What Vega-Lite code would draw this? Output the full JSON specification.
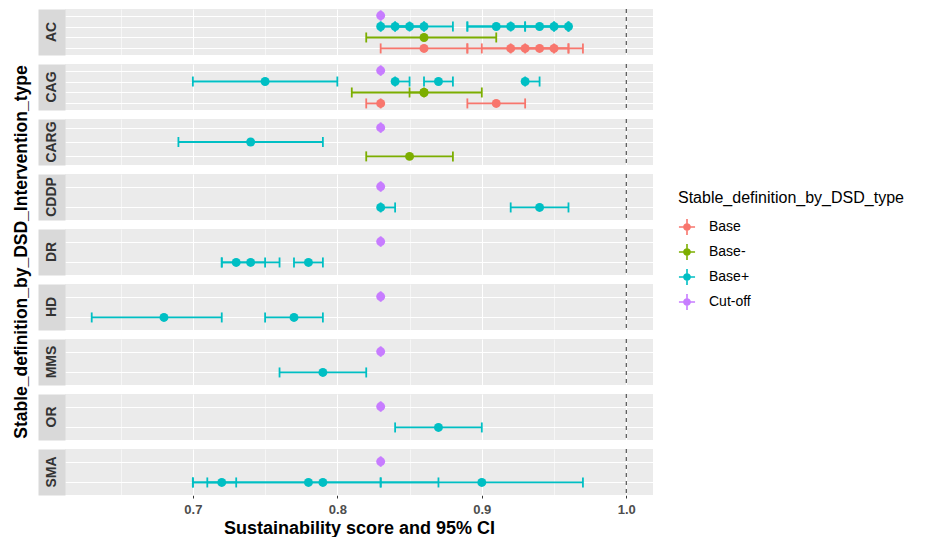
{
  "$schema": "https://vega.github.io/schema/vega-lite/v6.json",
  "padding": {"left": 12, "top": 8, "right": 5, "bottom": 0},
  "background": "white",
  "bounds": "flush",
  "data": {"values": [
    {"g":"AC","type":"Cut-off","score":0.83,"lo":0.83,"hi":0.83},
    {"g":"AC","type":"Base+","score":0.83,"lo":0.83,"hi":0.85},
    {"g":"AC","type":"Base+","score":0.84,"lo":0.83,"hi":0.86},
    {"g":"AC","type":"Base+","score":0.85,"lo":0.84,"hi":0.86},
    {"g":"AC","type":"Base+","score":0.86,"lo":0.84,"hi":0.88},
    {"g":"AC","type":"Base+","score":0.91,"lo":0.89,"hi":0.93},
    {"g":"AC","type":"Base+","score":0.92,"lo":0.89,"hi":0.95},
    {"g":"AC","type":"Base+","score":0.94,"lo":0.92,"hi":0.96},
    {"g":"AC","type":"Base+","score":0.95,"lo":0.93,"hi":0.96},
    {"g":"AC","type":"Base+","score":0.96,"lo":0.95,"hi":0.96},
    {"g":"AC","type":"Base-","score":0.86,"lo":0.82,"hi":0.91},
    {"g":"AC","type":"Base","score":0.86,"lo":0.83,"hi":0.89},
    {"g":"AC","type":"Base","score":0.92,"lo":0.89,"hi":0.95},
    {"g":"AC","type":"Base","score":0.93,"lo":0.90,"hi":0.96},
    {"g":"AC","type":"Base","score":0.94,"lo":0.92,"hi":0.96},
    {"g":"AC","type":"Base","score":0.95,"lo":0.93,"hi":0.97},
    {"g":"CAG","type":"Cut-off","score":0.83,"lo":0.83,"hi":0.83},
    {"g":"CAG","type":"Base+","score":0.75,"lo":0.70,"hi":0.80},
    {"g":"CAG","type":"Base+","score":0.84,"lo":0.84,"hi":0.85},
    {"g":"CAG","type":"Base+","score":0.87,"lo":0.86,"hi":0.88},
    {"g":"CAG","type":"Base+","score":0.93,"lo":0.93,"hi":0.94},
    {"g":"CAG","type":"Base-","score":0.86,"lo":0.81,"hi":0.90},
    {"g":"CAG","type":"Base-","score":0.86,"lo":0.85,"hi":0.86},
    {"g":"CAG","type":"Base","score":0.83,"lo":0.82,"hi":0.83},
    {"g":"CAG","type":"Base","score":0.91,"lo":0.89,"hi":0.93},
    {"g":"CARG","type":"Cut-off","score":0.83,"lo":0.83,"hi":0.83},
    {"g":"CARG","type":"Base+","score":0.74,"lo":0.69,"hi":0.79},
    {"g":"CARG","type":"Base-","score":0.85,"lo":0.82,"hi":0.88},
    {"g":"CDDP","type":"Cut-off","score":0.83,"lo":0.83,"hi":0.83},
    {"g":"CDDP","type":"Base+","score":0.83,"lo":0.83,"hi":0.84},
    {"g":"CDDP","type":"Base+","score":0.94,"lo":0.92,"hi":0.96},
    {"g":"DR","type":"Cut-off","score":0.83,"lo":0.83,"hi":0.83},
    {"g":"DR","type":"Base+","score":0.73,"lo":0.72,"hi":0.75},
    {"g":"DR","type":"Base+","score":0.74,"lo":0.72,"hi":0.76},
    {"g":"DR","type":"Base+","score":0.78,"lo":0.77,"hi":0.79},
    {"g":"HD","type":"Cut-off","score":0.83,"lo":0.83,"hi":0.83},
    {"g":"HD","type":"Base+","score":0.68,"lo":0.63,"hi":0.72},
    {"g":"HD","type":"Base+","score":0.77,"lo":0.75,"hi":0.79},
    {"g":"MMS","type":"Cut-off","score":0.83,"lo":0.83,"hi":0.83},
    {"g":"MMS","type":"Base+","score":0.79,"lo":0.76,"hi":0.82},
    {"g":"OR","type":"Cut-off","score":0.83,"lo":0.83,"hi":0.83},
    {"g":"OR","type":"Base+","score":0.87,"lo":0.84,"hi":0.90},
    {"g":"SMA","type":"Cut-off","score":0.83,"lo":0.83,"hi":0.83},
    {"g":"SMA","type":"Base+","score":0.72,"lo":0.71,"hi":0.73},
    {"g":"SMA","type":"Base+","score":0.78,"lo":0.70,"hi":0.83},
    {"g":"SMA","type":"Base+","score":0.79,"lo":0.70,"hi":0.87},
    {"g":"SMA","type":"Base+","score":0.90,"lo":0.83,"hi":0.97}
  ]},
  "facet": {
    "row": {
      "field": "g", "type": "nominal",
      "header": {
        "title": "Stable_definition_by_DSD_Intervention_type",
        "titleFont": "Liberation Sans", "titleFontSize": 17.5, "titleFontWeight": "bold", "titleColor": "#000000",
        "titleOrient": "left", "titlePadding": 25,
        "labels": false
      }
    }
  },
  "spacing": {"row": 9},
  "resolve": {"scale": {"y": "independent"}},
  "spec": {
    "width": 588,
    "height": 46,
    "resolve": {"scale": {"y": "independent"}},
    "layer": [
      {
        "transform": [{"aggregate": [{"op": "count", "as": "n"}], "groupby": ["g"]}],
        "mark": {"type": "point", "opacity": 0},
        "encoding": {
          "x": {"datum": 1.0, "type": "quantitative", "scale": {"domain": [0.6115, 1.0185], "nice": false, "zero": false}},
          "y": {
            "field": "g", "type": "nominal",
            "scale": {"type": "band", "paddingInner": 0, "paddingOuter": 0},
            "axis": {
              "title": null, "orient": "left", "grid": false, "domain": false,
              "ticks": true, "bandPosition": 0.5, "tickSize": 27, "tickWidth": 46, "tickColor": "#D9D9D9", "tickCap": "butt",
              "labels": true, "labelAngle": -90, "labelAlign": "center", "labelBaseline": "middle",
              "labelPadding": -13, "labelFont": "Liberation Sans", "labelFontSize": 14, "labelFontWeight": "bold", "labelColor": "#333333"
            }
          }
        }
      },
      {
        "transform": [{"aggregate": [{"op": "count", "as": "n"}], "groupby": ["g"]}],
        "mark": {"type": "rule", "color": "#333333", "strokeWidth": 1, "strokeDash": [4, 4]},
        "encoding": {"x": {"datum": 1.0, "type": "quantitative"}}
      },
      {
        "encoding": {
          "y": {
            "field": "type", "type": "nominal",
            "sort": ["Cut-off", "Base+", "Base-", "Base"],
            "scale": {"type": "point", "padding": 0.6},
            "axis": {
              "title": null, "labels": false, "ticks": false, "domain": false, "orient": "right",
              "grid": true, "gridColor": "#FFFFFF", "gridWidth": 1.1
            }
          },
          "color": {
            "field": "type", "type": "nominal",
            "scale": {"domain": ["Base", "Base-", "Base+", "Cut-off"], "range": ["#F8766D", "#7CAE00", "#00BFC4", "#C77CFF"]},
            "legend": {
              "title": "Stable_definition_by_DSD_type", "titleLimit": 400,
              "orient": "none", "legendX": 613, "legendY": 181,
              "titleFont": "Liberation Sans", "titleFontSize": 16, "titleFontWeight": "normal", "titleColor": "#000000",
              "labelFont": "Liberation Sans", "labelFontSize": 14, "labelColor": "#000000", "labelLimit": 200,
              "symbolType": "M-1,0H1M0,-1V1M0.38,0A0.38,0.38,0,1,1,-0.38,0A0.38,0.38,0,1,1,0.38,0Z",
              "symbolSize": 260, "symbolStrokeWidth": 1.6, "symbolOpacity": 1,
              "rowPadding": 1, "labelOffset": 13, "titlePadding": 12,
              "encode": {"symbols": {"update": {"stroke": {"scale": "color", "field": "value"}, "fill": {"scale": "color", "field": "value"}}}}
            }
          }
        },
        "layer": [
          {
            "mark": {"type": "rule", "strokeWidth": 1.8},
            "encoding": {
              "x": {
                "field": "lo", "type": "quantitative",
                "axis": {
                  "title": "Sustainability score and 95% CI",
                  "titleFont": "Liberation Sans", "titleFontSize": 18, "titleFontWeight": "bold", "titleColor": "#000000", "titlePadding": 3,
                  "values": [0.65, 0.7, 0.75, 0.8, 0.85, 0.9, 0.95, 1.0],
                  "labelExpr": "round(datum.value*100)%10==0 ? format(datum.value,'.1f') : ''",
                  "labelFont": "Liberation Sans", "labelFontSize": 13, "labelFontWeight": "bold", "labelColor": "#4D4D4D", "labelPadding": 5,
                  "domain": false,
                  "tickColor": "#333333", "tickSize": 3,
                  "tickOpacity": {"condition": {"test": "round(datum.value*100)%10!=0", "value": 0}, "value": 1},
                  "grid": true, "gridColor": "#FFFFFF",
                  "gridWidth": {"condition": {"test": "round(datum.value*100)%10!=0", "value": 0.55}, "value": 1.1}
                }
              },
              "x2": {"field": "hi"}
            }
          },
          {
            "mark": {"type": "tick", "thickness": 1.8, "size": 10},
            "encoding": {"x": {"field": "lo", "type": "quantitative"}}
          },
          {
            "mark": {"type": "tick", "thickness": 1.8, "size": 10},
            "encoding": {"x": {"field": "hi", "type": "quantitative"}}
          },
          {
            "mark": {"type": "point", "filled": true, "size": 80, "opacity": 1},
            "encoding": {"x": {"field": "score", "type": "quantitative"}}
          }
        ]
      }
    ]
  },
  "config": {
    "font": "Liberation Sans",
    "view": {"fill": "#EBEBEB", "stroke": null},
    "tick": {"opacity": 1},
    "rule": {"opacity": 1}
  }
}
